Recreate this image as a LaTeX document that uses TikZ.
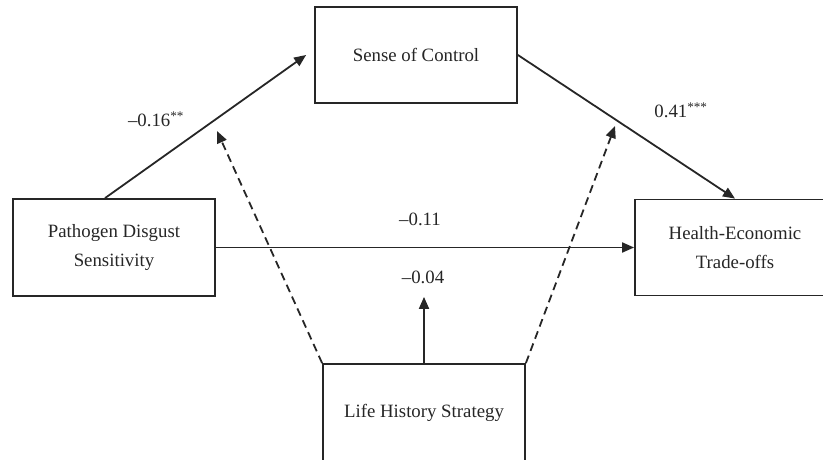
\documentclass[tikz,border=0pt]{standalone}
\usepackage{fontspec}
\setmainfont{Liberation Serif}
\usetikzlibrary{arrows.meta,calc}
\begin{document}
\begin{tikzpicture}[x=1pt,y=-1pt,
  box/.style={draw=black!85,line width=1.8pt,rectangle,inner sep=0pt,align=center,
    font=\fontsize{18.8}{29}\selectfont,text=black!85},
  lbl/.style={font=\fontsize{18.8}{23}\selectfont,text=black!85,inner sep=0pt},
  conn/.style={draw=black!85,line width=1.8pt,-{Triangle[length=12pt,width=10pt]}},
  dconn/.style={conn,dash pattern=on 8pt off 5pt}]
\useasboundingbox (0,0) rectangle (823,460);
\node[box,minimum width=202pt,minimum height=96pt] (S) at (416,55) {Sense of Control};
\node[box,minimum width=202pt,minimum height=97pt] (P) at (114,247.5) {Pathogen Disgust\\Sensitivity};
\node[box,minimum width=200pt,minimum height=96pt] (H) at (735,247.5) {Health-Economic\\Trade-offs};
\node[box,minimum width=202pt,minimum height=98pt] (L) at (424,413) {Life History Strategy};
\coordinate (dl) at (217,131);
\coordinate (dr) at (615,126);
\draw[conn] ([xshift=-9pt]P.north) -- ([xshift=-8pt]S.west);
\draw[conn] (S.east) -- (H.north);
\draw[conn] (P.east) -- (H.west);
\draw[conn] (L.north) -- (L.north |- P.south);
\draw[dconn] (L.north west) -- (dl);
\draw[dconn] (L.north east) -- (dr);
\node[lbl] (a) at (156,119) {–0.16\textsuperscript{**}};
\node[lbl] (b) at (681,110) {0.41\textsuperscript{***}};
\node[lbl] (c) at (420,219) {–0.11};
\node[lbl] (d) at (423,277) {–0.04};
\end{tikzpicture}
\end{document}
